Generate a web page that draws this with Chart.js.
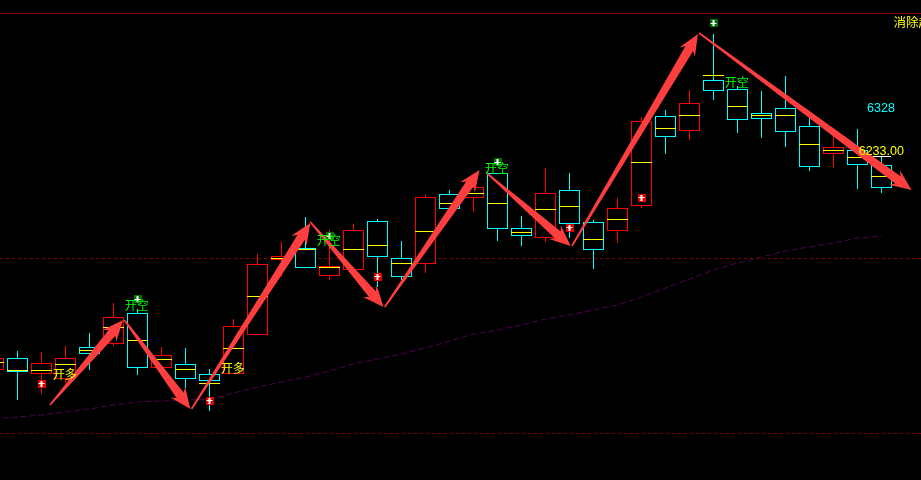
<!DOCTYPE html>
<html>
<head>
<meta charset="utf-8">
<script src="https://cdn.jsdelivr.net/npm/chart.js@4"></script>
<style>
html, body { margin: 0; padding: 0; background: #000; overflow: hidden; }
#wrap { position: absolute; left: 0; top: 0; width: 921px; height: 480px; }
</style>
</head>
<body>
<div id="wrap"><canvas id="klineChart"></canvas></div>
<script>
// candles
const open  = [5805,5829,5797,5787,5851,5857,5919,5809,5817,5797,5797,5875,6025,6049,5993,6005,6103,6029,6017,6157,6149,6199,6089,6069,6165,6101,6083,6133,6313,6283,6385,6367,6319,6329,6293,6237,6245,6215];
const close = [5829,5801,5819,5829,5837,5911,5809,5835,5787,5783,5893,6017,6033,6009,6013,6085,6031,5991,6151,6127,6171,6087,6073,6159,6097,6045,6129,6303,6271,6339,6363,6305,6307,6281,6211,6251,6215,6169];
const high  = [5841,5843,5841,5853,5879,5939,5927,5851,5849,5807,5907,6037,6061,6111,6085,6097,6107,6063,6157,6165,6177,6199,6113,6209,6199,6105,6149,6311,6325,6365,6477,6373,6363,6393,6311,6275,6287,6233];
const low   = [5799,5745,5757,5779,5805,5853,5795,5807,5769,5723,5797,5875,5991,6009,5985,6005,5971,5985,5999,6127,6121,6063,6053,6061,6069,6007,6059,6129,6237,6265,6345,6279,6269,6251,6203,6209,6167,6159];
const mid   = [5821,5805,5805,5817,5845,5891,5865,5827,5807,5779,5849,5953,6029,6047,6011,6047,6055,6019,6083,6139,6159,6139,6081,6127,6133,6067,6107,6221,6289,6315,6395,6333,6315,6315,6257,6245,6231,6193];
const ma    = [5707,5711,5715,5721,5727,5735,5741,5743,5745,5747,5759,5771,5781,5791,5803,5817,5827,5837,5849,5863,5877,5885,5895,5907,5915,5925,5935,5951,5969,5987,6005,6019,6031,6043,6051,6059,6069,6073];

const lastPrice = 6233;
const refLines = [6518, 6028, 5678];

// markers: bar index and price
const buyIdx  = [2, 9, 16, 24, 27];
const buyY    = [5777, 5743, 5991, 6089, 6149];
const sellIdx = [6, 14, 21, 30];
const sellY   = [5947, 6073, 6221, 6499];

// signal text
const longText  = ['开多', '开多'];
const longIdx   = [2.47, 9.47];
const longY     = [5797, 5809];
const shortText = ['开空', '开空', '开空', '开空'];
const shortIdx  = [5.47, 13.47, 20.47, 30.47];
const shortY    = [5935, 6065, 6209, 6381];
const sideText  = ['消除趋', '6328', '6233.00'];
const sideIdx   = [37.5, 36.4, 36.05];
const sideY     = [6497, 6327, 6241];

// red zigzag arrows
const arrowX0 = [2.35, 5.45, 8.25, 13.2, 16.3, 20.55, 24.1, 29.4];
const arrowY0 = [5735, 5905, 5727, 6101, 5931, 6199, 6053, 6479];
const arrowX1 = [5.4, 8.2, 13.2, 16.25, 20.25, 24.05, 29.35, 38.25];
const arrowY1 = [5905, 5727, 6099, 5931, 6205, 6053, 6477, 6165];

const barIdx = open.map((v, i) => i);
const xMin = 6.5 / 24;
const xMax = 927.5 / 24;
const upColor = '#ff0000';
const downColor = '#00ffff';

function makeMarker(bg, up) {
    const c = document.createElement('canvas');
    c.width = 8;
    c.height = 8;
    const g = c.getContext('2d');
    g.fillStyle = bg;
    g.fillRect(0, 0, 8, 8);
    g.fillStyle = '#fff';
    g.fillRect(3, 1, 2, 6);
    g.fillRect(1, up ? 3 : 4, 6, 1);
    return c;
}

const candleColor = barIdx.map(i => close[i] > open[i] ? upColor : downColor);

const overlayPlugin = {
    id: 'overlay',
    afterDatasetsDraw(chart) {
        const ctx = chart.ctx;
        const xs = chart.scales.x;
        const ys = chart.scales.y;

        ctx.save();
        ctx.fillStyle = '#ff3f3f';
        arrowX0.forEach((x0, i) => {
            const ax = xs.getPixelForValue(x0), ay = ys.getPixelForValue(arrowY0[i]);
            const bx = xs.getPixelForValue(arrowX1[i]), by = ys.getPixelForValue(arrowY1[i]);
            const len = Math.hypot(bx - ax, by - ay);
            const ux = (bx - ax) / len, uy = (by - ay) / len;
            const nx = -uy, ny = ux;
            const neckX = bx - ux * 17, neckY = by - uy * 17;
            const barbX = bx - ux * 21, barbY = by - uy * 21;
            ctx.beginPath();
            ctx.moveTo(ax + nx * 0.8, ay + ny * 0.8);
            ctx.lineTo(neckX + nx * 4.5, neckY + ny * 4.5);
            ctx.lineTo(barbX + nx * 9, barbY + ny * 9);
            ctx.lineTo(bx, by);
            ctx.lineTo(barbX - nx * 9, barbY - ny * 9);
            ctx.lineTo(neckX - nx * 4.5, neckY - ny * 4.5);
            ctx.lineTo(ax - nx * 0.8, ay - ny * 0.8);
            ctx.closePath();
            ctx.fill();
        });

        ctx.font = '12px "Noto Sans CJK SC"';
        ctx.textBaseline = 'middle';
        ctx.textAlign = 'left';
        ctx.fillStyle = '#ffff00';
        longText.forEach((t, i) => {
            ctx.fillText(t, xs.getPixelForValue(longIdx[i]), ys.getPixelForValue(longY[i]));
        });
        ctx.fillStyle = '#00ff00';
        shortText.forEach((t, i) => {
            ctx.fillText(t, xs.getPixelForValue(shortIdx[i]), ys.getPixelForValue(shortY[i]));
        });
        ctx.font = '12.5px "Liberation Sans", "Noto Sans CJK SC"';
        ['#ffff00', '#00ffff', '#ffff00'].forEach((col, i) => {
            ctx.fillStyle = col;
            ctx.fillText(sideText[i], xs.getPixelForValue(sideIdx[i]), ys.getPixelForValue(sideY[i]));
        });
        ctx.restore();
    }
};

const ctx = document.getElementById('klineChart').getContext('2d');
new Chart(ctx, {
    type: 'bar',
    data: {
        datasets: [
            {
                // price tick under the last candle
                label: 'last',
                order: 1,
                data: [{ x: 37, y: [lastPrice, lastPrice - 2] }],
                backgroundColor: '#ffffff',
                barThickness: 19,
                inflateAmount: 0
            },
            {
                type: 'scatter',
                label: 'buy',
                order: 0,
                data: buyIdx.map((x, i) => ({ x: x, y: buyY[i] })),
                pointStyle: makeMarker('#e00000', true),
                pointRadius: 4
            },
            {
                type: 'scatter',
                label: 'sell',
                order: 0,
                data: sellIdx.map((x, i) => ({ x: x, y: sellY[i] })),
                pointStyle: makeMarker('#007000', false),
                pointRadius: 4
            },
            {
                label: 'mid',
                order: 2,
                data: barIdx.map(i => ({ x: i, y: [mid[i], mid[i] - 2] })),
                backgroundColor: '#ffff00',
                barThickness: 21,
                inflateAmount: 0
            },
            {
                label: 'body',
                order: 3,
                data: barIdx.map(i => ({ x: i, y: [open[i], close[i]] })),
                backgroundColor: '#000000',
                borderColor: candleColor,
                borderWidth: 1,
                borderSkipped: false,
                barThickness: 21,
                inflateAmount: 0
            },
            {
                label: 'wick',
                order: 4,
                data: barIdx.map(i => ({ x: i, y: [high[i], low[i]] })),
                backgroundColor: candleColor,
                barThickness: 1,
                inflateAmount: 0
            },
            {
                type: 'line',
                label: 'MA',
                order: 5,
                data: barIdx.map(i => ({ x: i, y: ma[i] })),
                borderColor: '#500050',
                borderWidth: 1,
                borderDash: [6, 3],
                pointRadius: 0,
                tension: 0
            },
            ...refLines.map((v, i) => ({
                type: 'line',
                label: 'ref' + i,
                order: 6,
                data: [{ x: xMin, y: v }, { x: xMax, y: v }],
                borderColor: '#800000',
                borderWidth: 1,
                borderDash: i === 0 ? [] : [3, 3],
                pointRadius: 0
            }))
        ]
    },
    options: {
        responsive: true,
        maintainAspectRatio: false,
        animation: false,
        layout: { padding: 0, autoPadding: false },
        plugins: {
            legend: { display: false },
            tooltip: { enabled: false }
        },
        datasets: { bar: { grouped: false } },
        scales: {
            x: { type: 'linear', display: false, offset: false, min: xMin, max: xMax },
            y: { type: 'linear', display: false, min: 5585, max: 6545 }
        }
    },
    plugins: [overlayPlugin]
});
</script>
</body>
</html>
